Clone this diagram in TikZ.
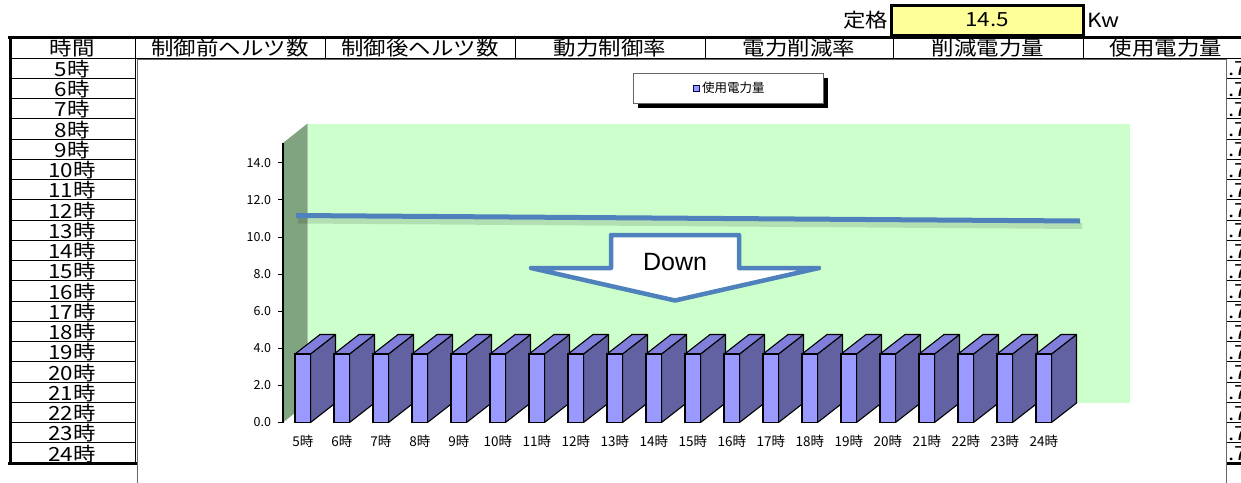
\documentclass[tikz,border=0pt]{standalone}
\usepackage{fontspec}
\usepackage{graphicx}
\usepackage{tikz}
\setmainfont{Noto Sans CJK JP}
\newfontfamily\downfont{Liberation Sans}

\definecolor{wallgreen}{RGB}{204,255,204}
\definecolor{sidegreen}{RGB}{128,164,128}
\definecolor{barfront}{RGB}{153,153,255}
\definecolor{barside}{RGB}{98,98,162}
\definecolor{bartop}{RGB}{128,128,220}
\definecolor{lineblue}{RGB}{79,129,189}
\definecolor{cellyellow}{RGB}{255,255,153}

\newcommand{\celltext}[1]{\scalebox{1.15}[1]{\fontsize{19.5}{19.5}\selectfont #1}}

\begin{document}
\begin{tikzpicture}[x=1pt, y=-1pt, inner sep=0pt, outer sep=0pt,
    small/.style={font=\fontsize{12.5}{12.5}\selectfont},
    catlabel/.style={font=\fontsize{13.5}{13.5}\selectfont}]
      \useasboundingbox (0,0) rectangle (1241,482);
      \clip (0,0) rectangle (1241,482);
      % rated power
      \node[anchor=east] (ratedlabel) at (888,20) {\celltext{定格}};
      \draw[line width=3pt, fill=cellyellow] (891,5.5) rectangle (1083,35);
      \node (rated) at (987,20) {\celltext{14.5}};
      \node[anchor=west] (unit) at (1087,20) {\celltext{Kw}};
      % header row
      \draw[line width=3pt] (8,37) -- (1241,37);
      \foreach \x in {135.5,325,515,705,893,1083}
        \draw[line width=0.9pt] (\x,37) -- (\x,58);
      \draw[line width=0.9pt] (10,58) -- (1241,58);
      \node (h1) at (72,48) {\celltext{時間}};
      \node (h2) at (230,48) {\celltext{制御前ヘルツ数}};
      \node (h3) at (420,48) {\celltext{制御後ヘルツ数}};
      \node (h4) at (610,48) {\celltext{動力制御率}};
      \node (h5) at (799,48) {\celltext{電力削減率}};
      \node (h6) at (988,48) {\celltext{削減電力量}};
      \node (h7) at (1166,48) {\celltext{使用電力量}};
      % hour rows, left and right
      \foreach \k in {1,...,19} {
        \draw[line width=0.9pt] (10,{58+\k*20.25}) -- (135.5,{58+\k*20.25});
        \draw[line width=0.9pt] (1226.5,{58+\k*20.25}) -- (1241,{58+\k*20.25});
      }
      \foreach \h [count=\k from 0] in {5,...,24} {
        \node (hour\h) at (72,{69+\k*20.25}) {\celltext{{\h}時}};
        \node[anchor=west] (used\h) at (1228,{69+\k*20.25}) {\celltext{.7}};
      }
      \draw[line width=0.9pt] (135.5,58) -- (135.5,463);
      \draw[line width=3pt] (10,37) -- (10,464.5);
      \draw[line width=3pt] (8,463) -- (137,463);
      \draw[line width=3pt] (1226.5,463) -- (1241,463);
      % chart area
      \draw[black!60, fill=white] (137.5,59.5) rectangle (1226.5,490);
      \fill[black] (638,78) rectangle (828,108);
      \node[draw=black!60, fill=white, minimum width=190, minimum height=30] (legend) at (728,88) {};
      \draw[draw=black!70!blue, fill=barfront, line width=1pt] (693.5,85) rectangle (699.5,91);
      \node[small, anchor=west] (legendtext) at (702,88) {使用電力量};
      % walls
      \fill[sidegreen] (283,143) -- (307.5,123.5) -- (307.5,403) -- (283,422.5) -- cycle;
      \fill[wallgreen] (307.5,123.5) rectangle (1130,403);
      \draw[line width=1.6pt] (283,143) -- (283,422.5);
      \foreach \v in {0,2,...,14} {
        \draw[line width=1pt] (278,{422.5-\v*18.55}) -- (283,{422.5-\v*18.55});
        \node[small, anchor=east] (tick\v) at (271,{422.5-\v*18.55}) {{\v}.0};
      }
      % used power line
      \draw[black, opacity=0.12, line width=6pt] (298,220.5) -- (1082,226);
      \draw[lineblue, line width=5pt] (296,215.5) -- (1080,221);
      % down arrow
      \draw[lineblue, line width=4.5pt, fill=white, line join=round]
        (611,235) -- (739,235) -- (739,268) -- (819,268) -- (675,300.5)
        -- (531,268) -- (611,268) -- cycle;
      \node[font=\downfont\fontsize{25}{25}\selectfont] (down) at (675,262) {Down};
      % bars
      \foreach \h [count=\i from 0] in {5,...,24} {
        \pgfmathsetmacro{\xa}{295+39*\i}
        \filldraw[fill=barside, line width=1.1pt, line join=round]
          ({\xa+15.5},354) -- ({\xa+15.5},422.5) -- ({\xa+40.5},403) -- ({\xa+40.5},334.5) -- cycle;
        \filldraw[fill=bartop, line width=1.1pt, line join=round]
          (\xa,354) -- ({\xa+15.5},354) -- ({\xa+40.5},334.5) -- ({\xa+25},334.5) -- cycle;
        \filldraw[fill=barfront, line width=1.1pt] (\xa,354) rectangle ({\xa+15.5},422.5);
        \node[catlabel] (cat\h) at ({302.8+39*\i},441) {{\h}時};
      }
    \end{tikzpicture}
\end{document}
